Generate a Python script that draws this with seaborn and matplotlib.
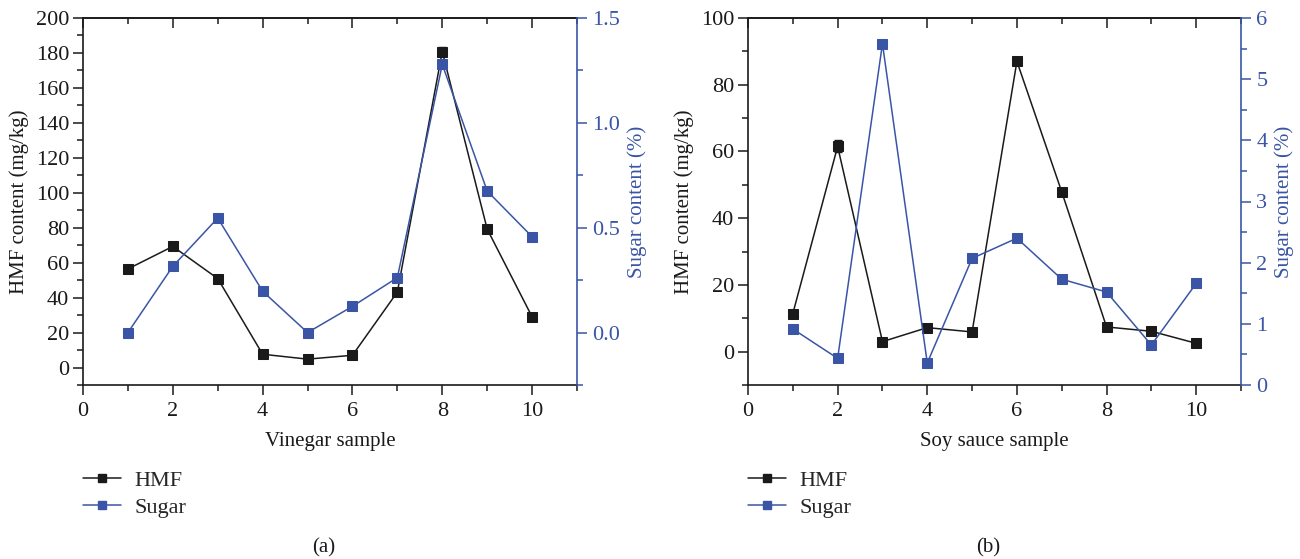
import numpy as np
import pandas as pd
import matplotlib
matplotlib.use("Agg")
import matplotlib.pyplot as plt
from matplotlib.lines import Line2D
from matplotlib.ticker import MultipleLocator
import seaborn as sns

sns.set_theme(style="white")
plt.rcParams['font.family'] = ['Liberation Serif', 'DejaVu Serif']

samples = [1, 2, 3, 4, 5, 6, 7, 8, 9, 10]

vinegar_hmf = [56.4, 69.3, 50.9, 7.6, 4.8, 7.0, 43.2, 180.8, 79.2, 29.0]
vinegar_hmf_err = [0.8, 1.0, 0.8, 0.5, 0.4, 0.5, 0.8, 2.5, 1.0, 0.6]
vinegar_sugar = [0.0, 0.316, 0.546, 0.197, 0.0, 0.125, 0.262, 1.279, 0.675, 0.457]

soy_hmf = [11.4, 61.5, 3.0, 7.2, 5.9, 87.0, 47.9, 7.4, 6.1, 2.5]
soy_hmf_err = [0.5, 1.8, 0.3, 0.4, 0.3, 0.8, 0.6, 0.4, 0.3, 0.3]
soy_sugar = [0.916, 0.436, 5.58, 0.36, 2.07, 2.40, 1.73, 1.52, 0.654, 1.66]

BLACK = "#1a1a1a"
BLUE = "#3a55a5"
FS_TICK = 16
FS_LAB = 15

fig = plt.figure(figsize=(13, 5.59), dpi=100)

panels = [
    dict(rect=[83/1300, 1-385/559, (577-83)/1300, (385-18)/559],
         hmf=vinegar_hmf, err=vinegar_hmf_err, sugar=vinegar_sugar,
         ylim=(-10, 200), ymaj=20, ymin=10,
         y2lim=(-0.25, 1.5), y2maj=0.5, y2min=0.25, y2fmt="%.1f",
         xlabel="Vinegar sample", tag="(a)"),
    dict(rect=[748/1300, 1-385/559, (1241-748)/1300, (385-18)/559],
         hmf=soy_hmf, err=soy_hmf_err, sugar=soy_sugar,
         ylim=(-10, 100), ymaj=20, ymin=10,
         y2lim=(0, 6), y2maj=1, y2min=0.5, y2fmt="%d",
         xlabel="Soy sauce sample", tag="(b)"),
]

for p in panels:
    ax = fig.add_axes(p["rect"])
    ax2 = ax.twinx()
    df = pd.DataFrame({"sample": samples, "hmf": p["hmf"], "sugar": p["sugar"]})
    sns.lineplot(data=df, x="sample", y="hmf", ax=ax, color=BLACK, lw=1.1,
                 marker="s", markersize=6.5, markeredgecolor=BLACK, zorder=3)
    ax.errorbar(samples, p["hmf"], yerr=p["err"], fmt="none", ecolor=BLACK,
                elinewidth=1, capsize=3, zorder=2)
    sns.lineplot(data=df, x="sample", y="sugar", ax=ax2, color=BLUE, lw=1.1,
                 marker="s", markersize=6.5, markeredgecolor=BLUE, zorder=3)

    ax.set_xlim(0, 11)
    ax.xaxis.set_major_locator(MultipleLocator(2))
    ax.xaxis.set_minor_locator(MultipleLocator(1))
    ax.yaxis.set_major_locator(MultipleLocator(p["ymaj"]))
    ax.yaxis.set_minor_locator(MultipleLocator(p["ymin"]))
    ax2.yaxis.set_major_locator(MultipleLocator(p["y2maj"]))
    ax2.yaxis.set_minor_locator(MultipleLocator(p["y2min"]))
    ax2.yaxis.set_major_formatter(matplotlib.ticker.FormatStrFormatter(p["y2fmt"]))
    ax.set_ylim(*p["ylim"])
    ax2.set_ylim(*p["y2lim"])

    for s in ["left", "bottom", "top"]:
        ax.spines[s].set_color(BLACK)
        ax.spines[s].set_linewidth(1.2)
    ax.spines["right"].set_visible(False)
    for s in ["left", "bottom", "top"]:
        ax2.spines[s].set_visible(False)
    ax2.spines["right"].set_color(BLUE)
    ax2.spines["right"].set_linewidth(1.2)

    ax.tick_params(axis="x", which="both", direction="out", bottom=True, top=False,
                   color=BLACK, labelsize=FS_TICK, labelcolor=BLACK, pad=5)
    ax.tick_params(axis="x", which="major", length=7, width=1.1)
    ax.tick_params(axis="x", which="minor", length=4, width=1.1)
    ax.tick_params(axis="y", which="both", direction="out", left=True, right=False,
                   color=BLACK, labelsize=FS_TICK, labelcolor=BLACK, pad=3)
    ax.tick_params(axis="y", which="major", length=7, width=1.1)
    ax.tick_params(axis="y", which="minor", length=4, width=1.1)

    # top ticks pointing inward
    axt = ax.secondary_xaxis("top")
    axt.xaxis.set_major_locator(MultipleLocator(2))
    axt.xaxis.set_minor_locator(MultipleLocator(1))
    axt.tick_params(axis="x", which="both", direction="in", labeltop=False, color=BLACK)
    axt.tick_params(axis="x", which="major", length=7, width=1.1)
    axt.tick_params(axis="x", which="minor", length=4, width=1.1)
    axt.spines["top"].set_color(BLACK)
    axt.spines["top"].set_linewidth(1.2)

    ax2.tick_params(axis="y", which="both", direction="out", right=True, left=False,
                    color=BLUE, labelcolor=BLUE, labelsize=FS_TICK, pad=4)
    ax2.tick_params(axis="y", which="major", length=7, width=1.1)
    ax2.tick_params(axis="y", which="minor", length=4, width=1.1)

    ax.set_xlabel(p["xlabel"], fontsize=FS_LAB, color=BLACK, labelpad=8)
    ax.set_ylabel("HMF content (mg/kg)", fontsize=FS_LAB, color=BLACK, labelpad=5)
    ax2.set_ylabel("Sugar content (%)", fontsize=FS_LAB, color=BLUE, labelpad=5)
    ax.grid(False)
    ax2.grid(False)
    ax.set_facecolor("none")

    x0 = p["rect"][0]
    handles = [
        Line2D([], [], color=BLACK, lw=1.1, marker="s", markersize=5.5, markeredgecolor=BLACK),
        Line2D([], [], color=BLUE, lw=1.1, marker="s", markersize=5.5, markeredgecolor=BLUE),
    ]
    fig.legend(handles, ["HMF", "Sugar"], loc="upper left",
               bbox_to_anchor=(x0, 1 - 470/559), frameon=False,
               fontsize=FS_LAB + 1, handlelength=1.7, handletextpad=0.6, labelspacing=0.3,
               borderaxespad=0, borderpad=0)
    cx = p["rect"][0] + p["rect"][2] * 0.5 - 0.005
    fig.text(cx, 1 - 548/559, p["tag"], ha="center", va="center", fontsize=FS_LAB, color=BLACK)

fig.savefig("out.png", dpi=100, facecolor="white")
